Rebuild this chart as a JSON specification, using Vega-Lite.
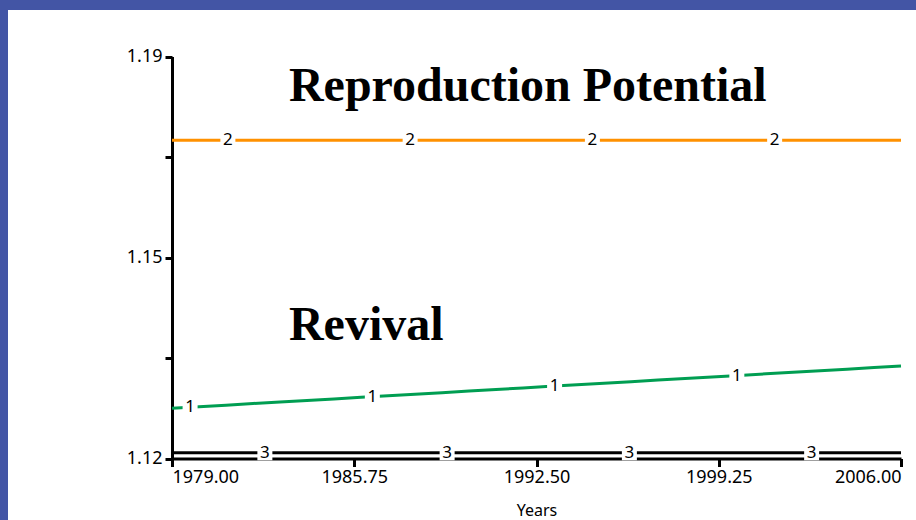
{
  "$schema": "https://vega.github.io/schema/vega-lite/v6.json",
  "autosize": {"type": "none"},
  "padding": {"left": 8, "top": 10, "right": 0, "bottom": 0},
  "width": 908,
  "height": 510,
  "background": "#4355A5",
  "config": {
    "view": {"fill": "white", "stroke": null},
    "axis": {
      "domainColor": "black", "domainWidth": 3, "tickColor": "black", "tickWidth": 3,
      "labelColor": "black", "labelFont": "Noto Sans", "labelFontSize": 18,
      "titleFont": "Noto Sans", "titleFontWeight": "normal", "titleColor": "black",
      "grid": false
    }
  },
  "datasets": {
    "series": [
      {"year": 1979, "value": 1.12875, "series": "1"},
      {"year": 1980, "value": 1.12902, "series": "1"},
      {"year": 1981, "value": 1.12929, "series": "1"},
      {"year": 1982, "value": 1.12957, "series": "1"},
      {"year": 1983, "value": 1.12984, "series": "1"},
      {"year": 1984, "value": 1.13011, "series": "1"},
      {"year": 1985, "value": 1.13038, "series": "1"},
      {"year": 1986, "value": 1.13066, "series": "1"},
      {"year": 1987, "value": 1.13093, "series": "1"},
      {"year": 1988, "value": 1.13120, "series": "1"},
      {"year": 1989, "value": 1.13147, "series": "1"},
      {"year": 1990, "value": 1.13174, "series": "1"},
      {"year": 1991, "value": 1.13202, "series": "1"},
      {"year": 1992, "value": 1.13229, "series": "1"},
      {"year": 1993, "value": 1.13256, "series": "1"},
      {"year": 1994, "value": 1.13283, "series": "1"},
      {"year": 1995, "value": 1.13311, "series": "1"},
      {"year": 1996, "value": 1.13338, "series": "1"},
      {"year": 1997, "value": 1.13365, "series": "1"},
      {"year": 1998, "value": 1.13392, "series": "1"},
      {"year": 1999, "value": 1.13419, "series": "1"},
      {"year": 2000, "value": 1.13447, "series": "1"},
      {"year": 2001, "value": 1.13474, "series": "1"},
      {"year": 2002, "value": 1.13501, "series": "1"},
      {"year": 2003, "value": 1.13528, "series": "1"},
      {"year": 2004, "value": 1.13556, "series": "1"},
      {"year": 2005, "value": 1.13583, "series": "1"},
      {"year": 2006, "value": 1.13610, "series": "1"},
      {"year": 1979, "value": 1.1754, "series": "2"},
      {"year": 1992.5, "value": 1.1754, "series": "2"},
      {"year": 2006, "value": 1.1754, "series": "2"},
      {"year": 1979, "value": 1.121, "series": "3"},
      {"year": 1992.5, "value": 1.121, "series": "3"},
      {"year": 2006, "value": 1.121, "series": "3"}
    ],
    "labels": [
      {"year": 1979.67, "value": 1.12893, "label": "1"},
      {"year": 1986.42, "value": 1.13077, "label": "1"},
      {"year": 1993.17, "value": 1.13260, "label": "1"},
      {"year": 1999.92, "value": 1.13444, "label": "1"},
      {"year": 1981.07, "value": 1.1754, "label": "2"},
      {"year": 1987.82, "value": 1.1754, "label": "2"},
      {"year": 1994.57, "value": 1.1754, "label": "2"},
      {"year": 2001.32, "value": 1.1754, "label": "2"},
      {"year": 1982.44, "value": 1.121, "label": "3"},
      {"year": 1989.19, "value": 1.121, "label": "3"},
      {"year": 1995.94, "value": 1.121, "label": "3"},
      {"year": 2002.69, "value": 1.121, "label": "3"}
    ],
    "titles": [
      {"year": 1983.33, "value": 1.18225, "text": "Reproduction Potential"},
      {"year": 1983.33, "value": 1.14063, "text": "Revival"}
    ]
  },
  "encoding": {
    "x": {
      "field": "year", "type": "quantitative",
      "scale": {"domain": [1979, 2006], "range": [164, 893], "nice": false, "zero": false},
      "axis": {
        "title": "Years", "titleFontSize": 16, "titlePadding": 16,
        "values": [1979, 1985.75, 1992.5, 1999.25, 2006], "format": ".2f",
        "labelFlush": true, "labelPadding": 2, "tickSize": 8, "offset": -61.5
      }
    },
    "y": {
      "field": "value", "type": "quantitative",
      "scale": {"domain": [1.12, 1.19], "range": [448.5, 46.5], "nice": false, "zero": false},
      "axis": {
        "title": null,
        "values": [1.12, 1.1375, 1.155, 1.1725, 1.19],
        "labelExpr": "abs(datum.value - 1.19) < 0.0001 ? '1.19' : abs(datum.value - 1.155) < 0.0001 ? '1.15' : abs(datum.value - 1.12) < 0.0001 ? '1.12' : ''",
        "labelPadding": 3, "tickSize": 7, "offset": -164
      }
    }
  },
  "layer": [
    {
      "data": {"name": "series"},
      "mark": {"type": "line", "strokeWidth": 3, "strokeCap": "butt"},
      "encoding": {
        "color": {
          "field": "series", "type": "nominal", "legend": null,
          "scale": {"domain": ["1", "2", "3"], "range": ["#009E52", "#FF9100", "#000000"]}
        }
      }
    },
    {
      "data": {"name": "labels"},
      "mark": {"type": "point", "shape": "square", "filled": true, "color": "white", "opacity": 1, "size": 225, "strokeWidth": 0}
    },
    {
      "data": {"name": "labels"},
      "mark": {"type": "text", "font": "Noto Sans", "fontSize": 17, "color": "black", "align": "center", "baseline": "middle"},
      "encoding": {"text": {"field": "label"}}
    },
    {
      "data": {"name": "titles"},
      "mark": {"type": "text", "font": "Liberation Serif", "fontWeight": "bold", "fontSize": 48, "color": "black", "align": "left", "baseline": "alphabetic"},
      "encoding": {"text": {"field": "text"}}
    }
  ]
}
